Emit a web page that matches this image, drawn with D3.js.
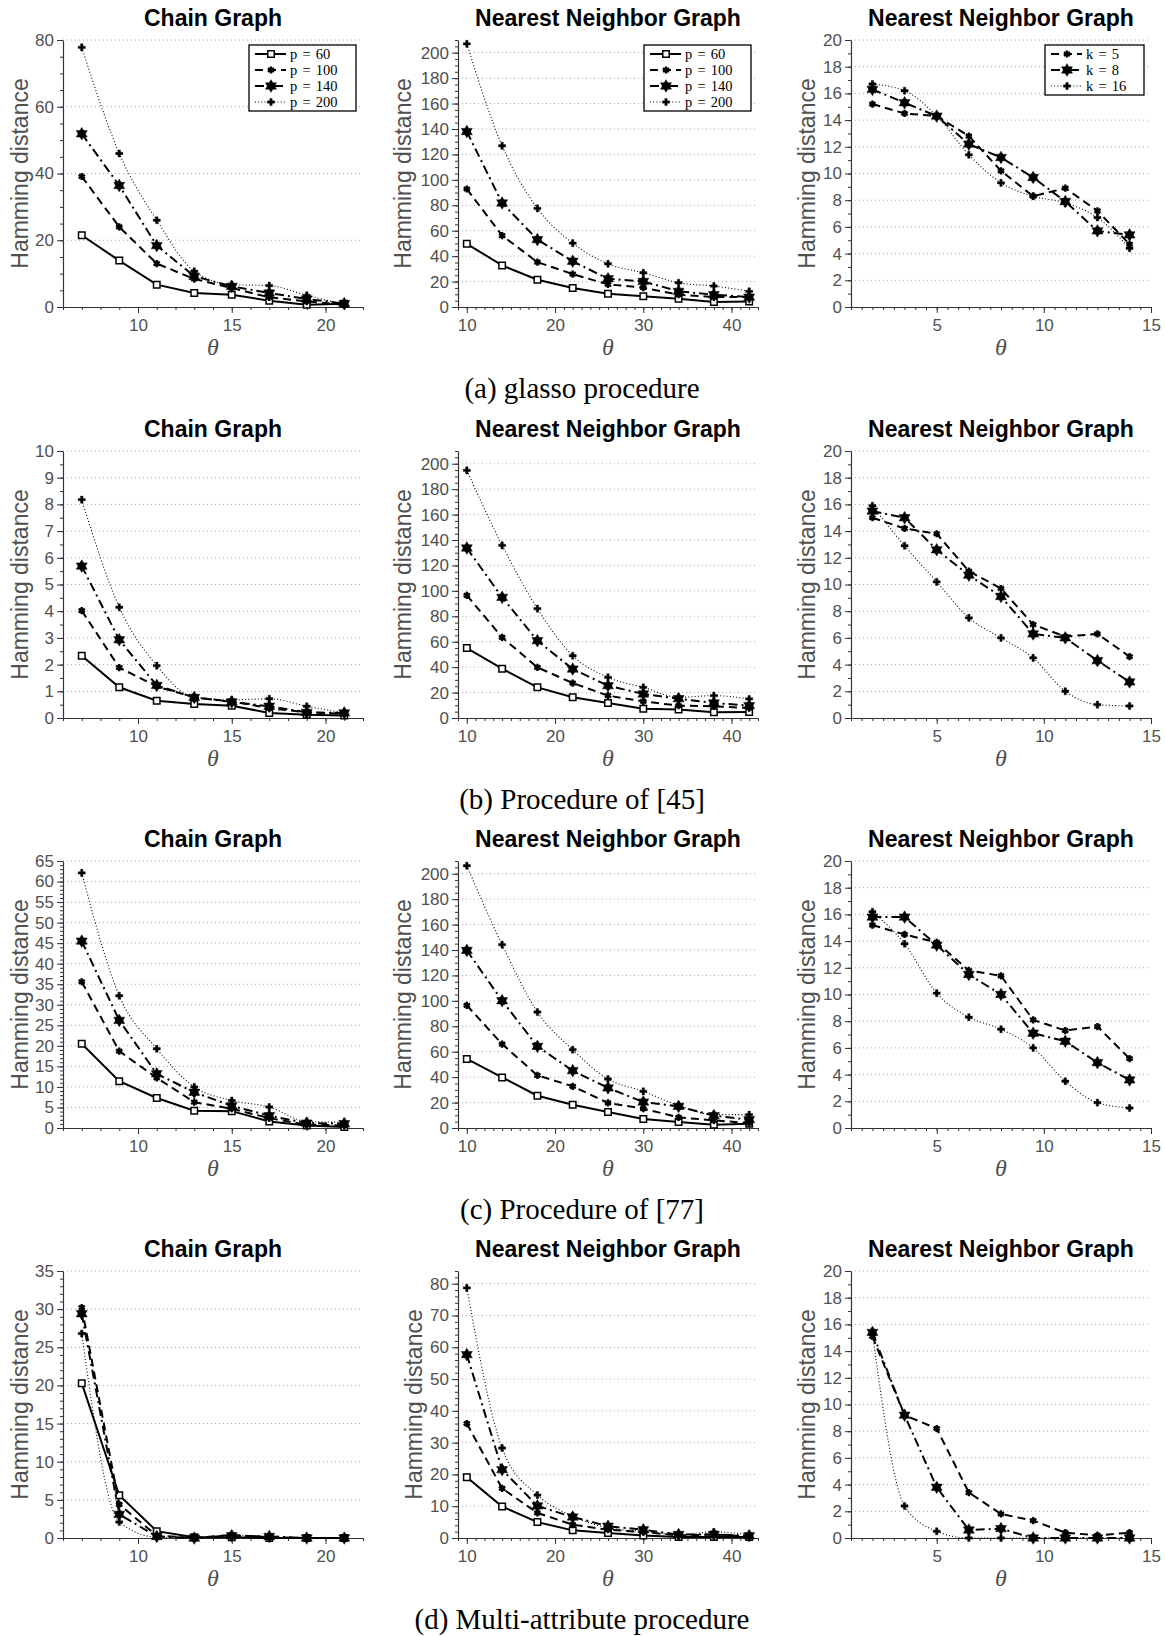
<!DOCTYPE html>
<html>
<head>
<meta charset="utf-8">
<script src="https://cdn.jsdelivr.net/npm/d3@7"></script>
<style>
  body { margin: 0; background: #fff; }
  text { font-family: "Liberation Sans", Arial, sans-serif; }
</style>
</head>
<body>
<div id="fig"></div>
<script>
// ---- data ----
const thetaChain = [7, 9, 11, 13, 15, 17, 19, 21];
const thetaNN = [10, 14, 18, 22, 26, 30, 34, 38, 42];
const thetaK = [2, 3.5, 5, 6.5, 8, 9.5, 11, 12.5, 14];

const pLabels = ["p = 60", "p = 100", "p = 140", "p = 200"];
const kLabels = ["k = 5", "k = 8", "k = 16"];
const titles = ["Chain Graph", "Nearest Neighbor Graph", "Nearest Neighbor Graph"];
const captions = ["(a) glasso procedure", "(b) Procedure of [45]", "(c) Procedure of [77]", "(d) Multi-attribute procedure"];

// (a) glasso
const chainA = [
  [21.5, 13.9, 6.7, 4.2, 3.7, 1.9, 0.7, 1.0],
  [39.1, 24.0, 13.0, 8.4, 5.7, 2.9, 1.7, 0.6],
  [51.9, 36.4, 18.4, 9.2, 6.2, 4.2, 2.4, 1.0],
  [77.8, 46.0, 26.0, 10.7, 6.7, 6.4, 3.5, 0.7]
];
const nnA = [
  [49.7, 32.7, 21.4, 14.9, 10.5, 8.4, 6.5, 3.9, 4.4],
  [92.8, 56.2, 35.3, 25.9, 17.8, 15.2, 9.7, 7.8, 7.8],
  [138, 81.8, 53, 36, 22.2, 20.1, 12.3, 9.7, 7.8],
  [207, 126.8, 77.6, 50.2, 34, 26.9, 19.1, 16.5, 12.3]
];
const kA = [
  [15.2, 14.5, 14.3, 12.8, 10.2, 8.3, 8.9, 7.2, 4.7],
  [16.3, 15.3, 14.3, 12.2, 11.2, 9.7, 7.9, 5.7, 5.4],
  [16.7, 16.2, 14.3, 11.4, 9.3, 8.3, 7.8, 6.7, 4.4]
];

// (b) procedure of [45]
const chainB = [
  [2.33, 1.15, 0.65, 0.52, 0.46, 0.19, 0.12, 0.09],
  [4.02, 1.89, 1.18, 0.77, 0.62, 0.37, 0.21, 0.16],
  [5.69, 2.93, 1.22, 0.77, 0.60, 0.44, 0.21, 0.19],
  [8.18, 4.15, 1.96, 0.77, 0.68, 0.72, 0.44, 0.19]
];
const nnB = [
  [55, 38.8, 24.1, 16.3, 11.8, 7.3, 6.6, 4.5, 4.7],
  [96.5, 63.4, 39.8, 27.5, 17.6, 13.1, 9.7, 9.2, 7.9],
  [133.7, 94.9, 60.8, 38.5, 25.4, 18.9, 15.2, 11.8, 9.7],
  [194.8, 135.8, 86, 49, 32, 24.1, 16.3, 17.6, 15]
];
const kB = [
  [15.0, 14.2, 13.8, 11.0, 9.7, 7.0, 6.1, 6.3, 4.6],
  [15.5, 15.0, 12.6, 10.7, 9.1, 6.3, 6.0, 4.3, 2.7],
  [15.9, 12.9, 10.2, 7.5, 6.0, 4.5, 2.0, 1.0, 0.9]
];

// (c) procedure of [77]
const chainC = [
  [20.5, 11.4, 7.3, 4.2, 4.1, 1.6, 0.6, 0.25],
  [35.6, 18.7, 12.2, 6.3, 4.7, 2.4, 0.8, 0.65],
  [45.5, 26.2, 13.2, 8.7, 5.4, 3.0, 1.2, 1.05],
  [62.1, 32.2, 19.3, 10.0, 6.7, 5.1, 1.6, 1.4]
];
const nnC = [
  [54.3, 39.8, 25.4, 18.3, 12.6, 7.1, 4.7, 2.6, 3.4],
  [96.5, 66, 41.4, 32.8, 19.7, 15.2, 8.4, 6, 3.9],
  [139.7, 100.1, 64.2, 45.1, 31.5, 20.4, 17, 9.7, 6.6],
  [206.3, 144.2, 91.2, 61.6, 38.5, 28.8, 17.6, 10.5, 10.5]
];
const kC = [
  [15.2, 14.5, 13.9, 11.8, 11.4, 8.1, 7.3, 7.6, 5.2],
  [15.8, 15.8, 13.7, 11.5, 10.0, 7.1, 6.5, 4.9, 3.6],
  [16.2, 13.8, 10.1, 8.3, 7.4, 6.0, 3.5, 1.9, 1.5]
];

// (d) multi-attribute procedure
const chainD = [
  [20.3, 5.6, 0.9, 0.1, 0.1, 0, 0, 0],
  [30.2, 4.4, 0.3, 0, 0.4, 0.1, 0, 0],
  [29.4, 3.1, 0.2, 0, 0.3, 0.2, 0, 0],
  [26.8, 2.1, 0.1, 0, 0.4, 0.1, 0, 0]
];
const nnD = [
  [19.1, 9.9, 5.0, 2.4, 1.6, 0.8, 0.3, 0.3, 0.3],
  [36, 15.6, 7.9, 4.2, 2.6, 1.9, 0.8, 1.1, 0.5],
  [57.7, 21.5, 10.1, 6.6, 3.7, 2.6, 1.1, 1.1, 0.7],
  [78.7, 28.3, 13.5, 6.9, 3.2, 2.1, 1.1, 1.9, 1.1]
];
const kD = [
  [15.1, 9.2, 8.2, 3.4, 1.8, 1.3, 0.4, 0.2, 0.4],
  [15.4, 9.2, 3.8, 0.6, 0.7, 0, 0, 0, 0],
  [15.3, 2.4, 0.5, 0, 0, 0, 0, 0, 0]
];

// axis ticks
const chainTicksA = [0, 20, 40, 60, 80];
const chainTicksB = [0, 1, 2, 3, 4, 5, 6, 7, 8, 9, 10];
const chainTicksC = [0, 5, 10, 15, 20, 25, 30, 35, 40, 45, 50, 55, 60, 65];
const chainTicksD = [0, 5, 10, 15, 20, 25, 30, 35];
const nnTicks = [0, 20, 40, 60, 80, 100, 120, 140, 160, 180, 200];
const nnTicksD = [0, 10, 20, 30, 40, 50, 60, 70, 80];
const kTicks = [0, 2, 4, 6, 8, 10, 12, 14, 16, 18, 20];
const xTicksChain = [10, 15, 20];
const xTicksNN = [10, 20, 30, 40];
const xTicksK = [5, 10, 15];

// ---- layout ----
const width = 1165, height = 1636;
const rowY = [0, 411, 821, 1231];
const colX = [63, 458, 851];
const plotW = 300, plotH = 267, plotTop = 40;

// series styles: solid/square, dashed/asterisk, dash-dot/hexagram, dotted/plus
const hexagram = {
  draw(ctx, size) {
    const r = Math.sqrt(size);
    for (let t = 0; t < 2; t++) {
      for (let i = 0; i < 3; i++) {
        const a = (t ? Math.PI / 2 : -Math.PI / 2) + i * 2 * Math.PI / 3;
        if (i) ctx.lineTo(r * Math.cos(a), r * Math.sin(a));
        else ctx.moveTo(r * Math.cos(a), r * Math.sin(a));
      }
      ctx.closePath();
    }
  }
};
const styles = [
  {dash: null, lw: 2, sym: d3.symbolSquare, size: 42, fill: "#fff", sw: 1.5},
  {dash: "8,5", lw: 2, sym: d3.symbolAsterisk, size: 36, fill: "none", sw: 2.4},
  {dash: "9,4,2,4", lw: 2, sym: hexagram, size: 40, fill: "#000", sw: 0.5},
  {dash: "1,2.2", lw: 1.1, sym: d3.symbolCross, size: 28, fill: "#000", sw: 0.4}
];

const panels = [];
const chainSets = [chainA, chainB, chainC, chainD];
const chainTicks = [chainTicksA, chainTicksB, chainTicksC, chainTicksD];
const chainMinor = [5, 0.5, 1, 1];
const nnSets = [nnA, nnB, nnC, nnD];
const nnTickSets = [nnTicks, nnTicks, nnTicks, nnTicksD];
const nnMax = [210, 210, 210, 84];
const nnMinor = [5, 5, 5, 2];
const kSets = [kA, kB, kC, kD];
for (let r = 0; r < 4; r++) {
  panels.push({row: r, col: 0, xs: thetaChain, series: chainSets[r], styleIdx: [0, 1, 2, 3], labels: pLabels,
    xDomain: [6, 22], xTicks: xTicksChain, xMinor: 1, yMax: chainTicks[r][chainTicks[r].length - 1],
    yTicks: chainTicks[r], yMinor: chainMinor[r], labelOff: 43});
  panels.push({row: r, col: 1, xs: thetaNN, series: nnSets[r], styleIdx: [0, 1, 2, 3], labels: pLabels,
    xDomain: [9, 43], xTicks: xTicksNN, xMinor: 1, yMax: nnMax[r],
    yTicks: nnTickSets[r], yMinor: nnMinor[r], labelOff: r === 3 ? 44 : 55});
  panels.push({row: r, col: 2, xs: thetaK, series: kSets[r], styleIdx: [1, 2, 3], labels: kLabels,
    xDomain: [1, 15], xTicks: xTicksK, xMinor: 0.5, yMax: 20,
    yTicks: kTicks, yMinor: 1, labelOff: 44});
}

const svg = d3.select("#fig").append("svg")
  .attr("width", width).attr("height", height)
  .style("background", "#fff");

const axisColor = "#333";
const labelColor = "#505050";

panels.forEach(p => {
  const g = svg.append("g")
    .attr("transform", "translate(" + colX[p.col] + "," + (rowY[p.row] + plotTop) + ")");
  const x = d3.scaleLinear().domain(p.xDomain).range([0, plotW]);
  const y = d3.scaleLinear().domain([0, p.yMax]).range([plotH, 0]);

  // dotted horizontal grid
  g.append("g").selectAll("line")
    .data(p.yTicks.filter(d => d > 0))
    .join("line")
    .attr("x1", 0).attr("x2", plotW)
    .attr("y1", d => y(d)).attr("y2", d => y(d))
    .attr("stroke", "#a8a8a8").attr("stroke-width", 1)
    .attr("stroke-dasharray", "1,3");

  // minor ticks
  const yMinorVals = d3.range(0, p.yMax + 1e-9, p.yMinor);
  g.append("g").call(d3.axisLeft(y).tickValues(yMinorVals).tickFormat("").tickSize(3).tickSizeOuter(0))
    .call(a => a.select(".domain").remove())
    .selectAll("line").attr("stroke", axisColor);
  const xMinorVals = d3.range(p.xDomain[0], p.xDomain[1] + 1e-9, p.xMinor);
  g.append("g").attr("transform", "translate(0," + plotH + ")")
    .call(d3.axisBottom(x).tickValues(xMinorVals).tickFormat("").tickSize(3).tickSizeOuter(0))
    .call(a => a.select(".domain").remove())
    .selectAll("line").attr("stroke", axisColor);

  // major axes
  const yAx = g.append("g")
    .call(d3.axisLeft(y).tickValues(p.yTicks).tickSize(6).tickPadding(3).tickSizeOuter(0));
  const xAx = g.append("g").attr("transform", "translate(0," + plotH + ")")
    .call(d3.axisBottom(x).tickValues(p.xTicks).tickSize(6).tickPadding(6).tickSizeOuter(0));
  [yAx, xAx].forEach(a => {
    a.select(".domain").attr("stroke", axisColor).attr("stroke-width", 1.2);
    a.selectAll(".tick line").attr("stroke", axisColor);
    a.selectAll(".tick text").attr("fill", labelColor)
      .style("font-size", "17px").style("font-family", "Liberation Sans, Arial, sans-serif");
  });

  // series
  p.series.forEach((vals, i) => {
    const st = styles[p.styleIdx[i]];
    const pts = p.xs.map((t, j) => [t, vals[j]]);
    const line = d3.line().x(d => x(d[0])).y(d => y(d[1]))
      .curve(p.styleIdx[i] === 3 ? d3.curveMonotoneX : d3.curveLinear);
    g.append("path").datum(pts)
      .attr("d", line)
      .attr("fill", "none").attr("stroke", "#000")
      .attr("stroke-width", st.lw)
      .attr("stroke-dasharray", st.dash);
    g.append("g").selectAll("path")
      .data(pts).join("path")
      .attr("transform", d => "translate(" + x(d[0]) + "," + y(d[1]) + ")")
      .attr("d", d3.symbol(st.sym, st.size))
      .attr("fill", st.fill).attr("stroke", "#000").attr("stroke-width", st.sw);
  });

  // title
  g.append("text")
    .attr("x", plotW / 2).attr("y", -plotTop + 18)
    .attr("text-anchor", "middle").attr("dominant-baseline", "central")
    .style("font-size", "23px").style("font-weight", "bold").attr("fill", "#000")
    .text(titles[p.col]);

  // y label
  g.append("text")
    .attr("transform", "translate(" + (-p.labelOff) + "," + (plotH / 2) + ") rotate(-90)")
    .attr("text-anchor", "middle").attr("dominant-baseline", "central")
    .style("font-size", "23px").attr("fill", labelColor)
    .text("Hamming distance");

  // x label
  g.append("text")
    .attr("x", plotW / 2).attr("y", plotH + 40)
    .attr("text-anchor", "middle").attr("dominant-baseline", "central")
    .style("font-family", "Liberation Serif, Times New Roman, serif")
    .style("font-style", "italic").style("font-size", "24px").attr("fill", labelColor)
    .text("θ");

  // legend (first row only)
  if (p.row === 0) {
    const n = p.series.length;
    const step = 16;
    const lw = p.col === 2 ? 99 : 107;
    const lh = 8 + (n - 1) * step + 10;
    const lg = g.append("g").attr("transform", "translate(" + (plotW - 7 - lw) + ",5)");
    lg.append("rect").attr("width", lw).attr("height", lh)
      .attr("fill", "#fff").attr("stroke", "#000").attr("stroke-width", 1.3);
    p.labels.forEach((lab, i) => {
      const st = styles[p.styleIdx[i]];
      const ly = 9 + i * step;
      lg.append("line").attr("x1", 6).attr("x2", 37).attr("y1", ly).attr("y2", ly)
        .attr("stroke", "#000").attr("stroke-width", st.lw).attr("stroke-dasharray", st.dash);
      lg.append("path").attr("transform", "translate(22," + ly + ")")
        .attr("d", d3.symbol(st.sym, st.size))
        .attr("fill", st.fill).attr("stroke", "#000").attr("stroke-width", st.sw);
      lg.append("text").attr("x", 41).attr("y", ly)
        .attr("dominant-baseline", "central")
        .style("font-family", "Liberation Serif, Times New Roman, serif")
        .style("font-size", "14.5px").style("word-spacing", "1.5px").attr("fill", "#000")
        .text(lab);
    });
  }
});

// sub-figure captions
svg.selectAll("text.caption")
  .data(captions).join("text")
  .attr("class", "caption")
  .attr("x", 582).attr("y", (d, i) => rowY[i] + 388)
  .attr("text-anchor", "middle").attr("dominant-baseline", "central")
  .style("font-family", "Liberation Serif, Times New Roman, serif")
  .style("font-size", "29px").attr("fill", "#000")
  .text(d => d);
</script>
</body>
</html>
